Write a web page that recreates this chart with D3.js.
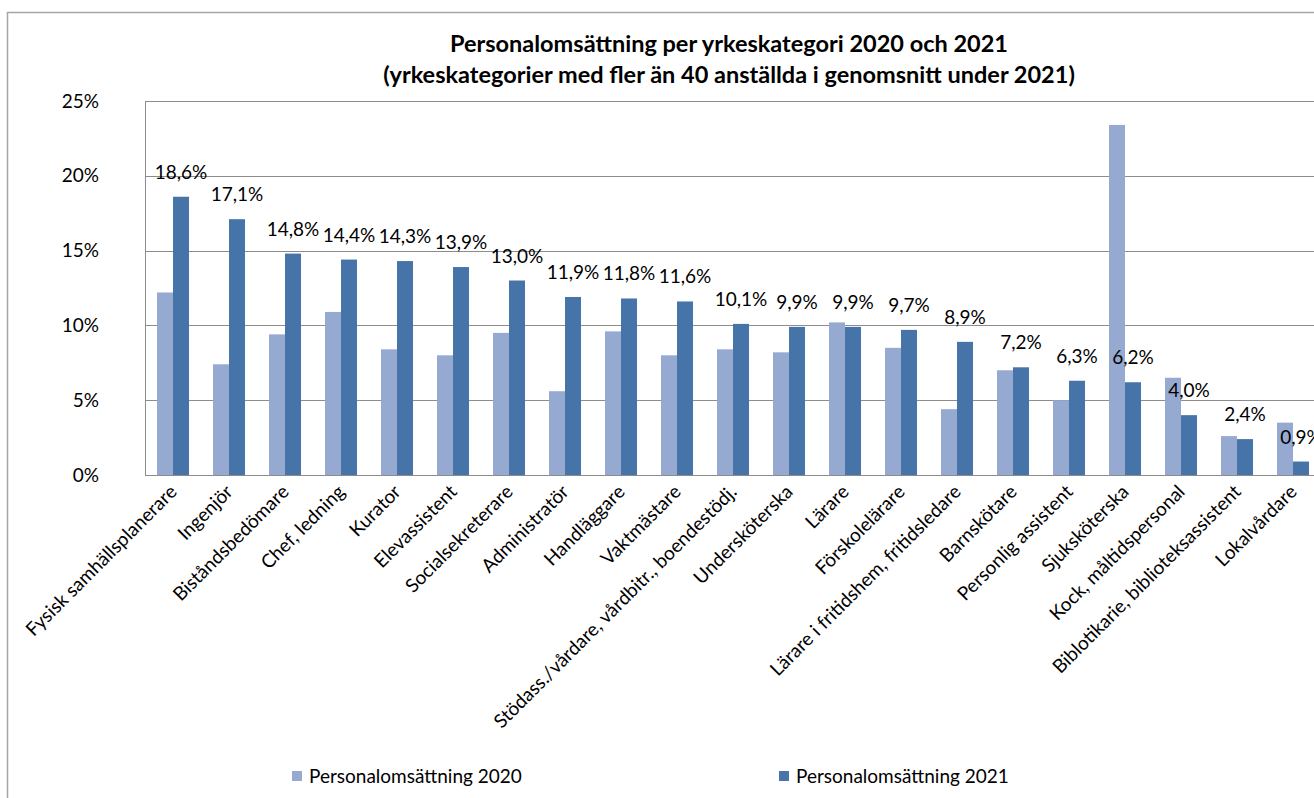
<!DOCTYPE html>
<html>
<head>
<meta charset="utf-8">
<script src="https://cdn.jsdelivr.net/npm/d3@7"></script>
<style>
  body { margin: 0; background: #fff; }
  svg text { font-family: Lato, "Open Sans", sans-serif; fill: #000; }
</style>
</head>
<body>
<div id="chart"></div>
<script>
const categories = ['Fysisk samhällsplanerare', 'Ingenjör', 'Biståndsbedömare', 'Chef, ledning', 'Kurator',
  'Elevassistent', 'Socialsekreterare', 'Administratör', 'Handläggare', 'Vaktmästare',
  'Stödass./vårdare, vårdbitr., boendestödj.', 'Undersköterska', 'Lärare', 'Förskolelärare',
  'Lärare i fritidshem, fritidsledare', 'Barnskötare', 'Personlig assistent', 'Sjuksköterska',
  'Kock, måltidspersonal', 'Biblotikarie, biblioteksassistent', 'Lokalvårdare'];
const values2020 = [12.2, 7.4, 9.4, 10.9, 8.4, 8.0, 9.5, 5.6, 9.6, 8.0, 8.4, 8.2, 10.2, 8.5, 4.4, 7.0, 5.0, 23.4, 6.5, 2.6, 3.5];
const values2021 = [18.6, 17.1, 14.8, 14.4, 14.3, 13.9, 13.0, 11.9, 11.8, 11.6, 10.1, 9.9, 9.9, 9.7, 8.9, 7.2, 6.3, 6.2, 4.0, 2.4, 0.9];
const seriesNames = ['Personalomsättning 2020', 'Personalomsättning 2021'];
const yTicks = [0, 5, 10, 15, 20, 25];
const titleLines = ['Personalomsättning per yrkeskategori 2020 och 2021',
  '(yrkeskategorier med fler än 40 anställda i genomsnitt under 2021)'];

const width = 1314, height = 798;
const colors = ['#95a9d1', '#4673a8'];
const plot = { left: 145, right: 1321, top: 101, bottom: 475 };

const svg = d3.select('#chart').append('svg')
  .attr('width', width)
  .attr('height', height);

// outer chart frame
svg.append('rect')
  .attr('x', 7.5).attr('y', 12.5)
  .attr('width', 1340).attr('height', 820)
  .attr('fill', 'none')
  .attr('stroke', '#a6a6a6')
  .attr('stroke-width', 1.5);

const x = d3.scaleBand()
  .domain(categories)
  .range([plot.left, plot.right])
  .paddingInner(0.4286)
  .paddingOuter(0.2143);

const y = d3.scaleLinear()
  .domain([0, 25])
  .range([plot.bottom, plot.top]);

const barW = x.bandwidth() / 2;

// gridlines
svg.append('g')
  .selectAll('line')
  .data(yTicks)
  .enter().append('line')
  .attr('x1', plot.left).attr('x2', plot.right)
  .attr('y1', d => Math.round(y(d)) + 0.5)
  .attr('y2', d => Math.round(y(d)) + 0.5)
  .attr('stroke', '#8c8c8c')
  .attr('stroke-width', 1);

svg.append('line')
  .attr('x1', plot.left + 0.5).attr('x2', plot.left + 0.5)
  .attr('y1', plot.top).attr('y2', plot.bottom)
  .attr('stroke', '#8c8c8c');

// y tick labels
svg.append('g')
  .selectAll('text')
  .data(yTicks)
  .enter().append('text')
  .attr('x', 99)
  .attr('y', d => y(d))
  .attr('dy', '0.35em')
  .attr('text-anchor', 'end')
  .style('font-size', '19px')
  .text(d => d + '%');

// bars
const series = [values2020, values2021];
series.forEach((vals, s) => {
  svg.append('g')
    .selectAll('rect')
    .data(vals)
    .enter().append('rect')
    .attr('x', (d, i) => x(categories[i]) + s * barW)
    .attr('y', d => y(d))
    .attr('width', barW)
    .attr('height', d => y(0) - y(d))
    .attr('fill', colors[s]);
});

// baseline
svg.append('line')
  .attr('x1', plot.left).attr('x2', plot.right)
  .attr('y1', plot.bottom + 0.5).attr('y2', plot.bottom + 0.5)
  .attr('stroke', '#8c8c8c');

// data labels on the 2021 series
svg.append('g')
  .selectAll('text')
  .data(values2021)
  .enter().append('text')
  .attr('x', (d, i) => x(categories[i]) + barW * 1.5)
  .attr('y', d => y(d) - 18)
  .attr('text-anchor', 'middle')
  .style('font-size', '19px')
  .text(d => d.toFixed(1).replace('.', ',') + '%');

// category labels, rotated
svg.append('g')
  .selectAll('text')
  .data(categories)
  .enter().append('text')
  .attr('text-anchor', 'end')
  .attr('transform', d => 'translate(' + (x(d) + x.bandwidth() / 2 + 5) + ',' + (plot.bottom + 18) + ') rotate(-45)')
  .style('font-size', '19px')
  .text(d => d);

// title
svg.append('g')
  .selectAll('text')
  .data(titleLines)
  .enter().append('text')
  .attr('x', 729)
  .attr('y', (d, i) => 52 + i * 31)
  .attr('text-anchor', 'middle')
  .style('font-size', '23.5px')
  .style('font-weight', 'bold')
  .text(d => d);

// legend
const legendX = [292, 779];
const legend = svg.append('g')
  .selectAll('g')
  .data(seriesNames)
  .enter().append('g')
  .attr('transform', (d, i) => 'translate(' + legendX[i] + ',776)');

legend.append('rect')
  .attr('x', 0).attr('y', -5)
  .attr('width', 10).attr('height', 10)
  .attr('fill', (d, i) => colors[i]);

legend.append('text')
  .attr('x', 17)
  .attr('dy', '0.35em')
  .style('font-size', '19px')
  .text(d => d);
</script>
</body>
</html>
